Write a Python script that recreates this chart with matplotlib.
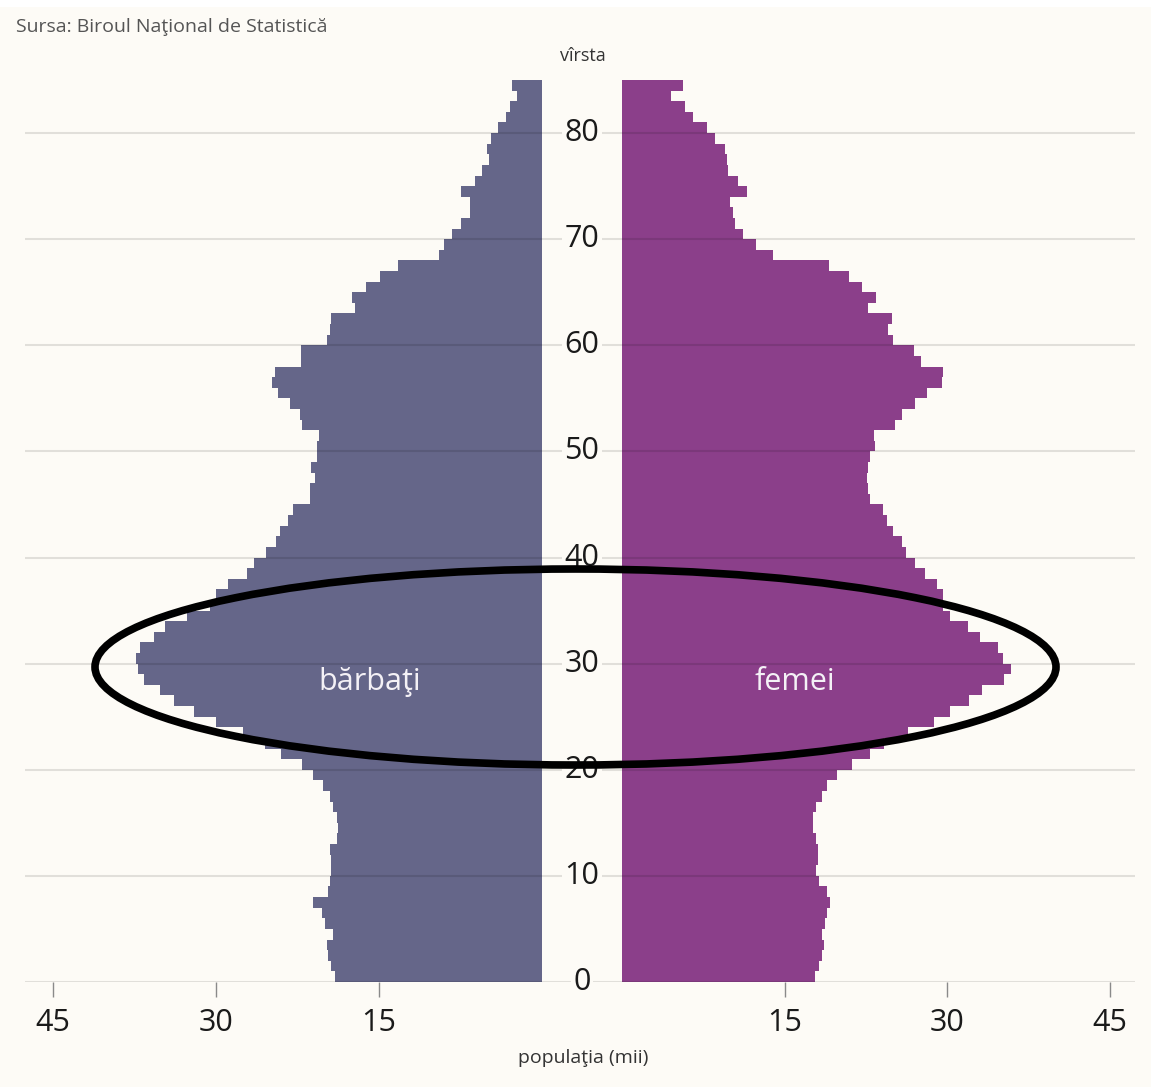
import numpy as np
import matplotlib.pyplot as plt
from matplotlib.patches import Ellipse, Rectangle

plt.rcParams["font.family"] = ["Open Sans", "DejaVu Sans"]

# populatia pe virste (mii), varsta 0..84
varsta = np.arange(0, 85)
barbati = [19.1, 19.4, 19.7, 19.8, 19.2, 20.0, 20.3, 21.1, 19.7, 19.5,
           19.4, 19.4, 19.5, 18.9, 18.8, 18.9, 19.2, 19.5, 20.2, 21.1,
           22.1, 24.0, 25.5, 27.5, 30.0, 32.0, 33.9, 35.2, 36.6, 37.2,
           37.4, 37.0, 35.7, 34.7, 32.7, 30.6, 30.0, 28.9, 27.2, 26.5,
           25.4, 24.5, 24.1, 23.4, 22.9, 21.4, 21.4, 20.9, 21.3, 20.7,
           20.7, 20.5, 22.1, 22.3, 23.2, 24.3, 24.9, 24.6, 22.2, 22.2,
           19.8, 19.5, 19.4, 17.2, 17.5, 16.2, 14.9, 13.3, 9.46, 9.03,
           8.26, 7.49, 6.64, 6.64, 7.49, 6.14, 5.50, 4.85, 5.10, 4.73,
           4.03, 3.32, 2.95, 2.33, 2.79]
femei = [17.8, 18.2, 18.4, 18.6, 18.4, 18.7, 18.9, 19.2, 18.9, 18.2,
         17.9, 18.1, 18.1, 17.9, 17.6, 17.6, 17.9, 18.4, 18.9, 19.8,
         21.2, 22.9, 24.2, 26.4, 28.8, 30.2, 32.0, 33.2, 35.2, 35.9,
         35.1, 34.7, 33.0, 31.9, 30.2, 29.6, 29.6, 29.0, 27.9, 27.0,
         26.2, 25.8, 25.0, 24.4, 24.1, 22.9, 22.7, 22.6, 22.7, 22.9,
         23.3, 23.2, 25.2, 25.8, 27.0, 28.1, 29.5, 29.6, 27.6, 26.9,
         25.0, 24.5, 24.9, 22.7, 23.4, 22.1, 20.9, 19.1, 13.9, 12.4,
         11.2, 10.4, 10.2, 10.0, 11.5, 10.7, 9.8, 9.65, 9.49, 8.57,
         7.86, 6.57, 5.81, 4.49, 5.65]
grila_varsta = [0, 10, 20, 30, 40, 50, 60, 70, 80]
ticks_pop = [15, 30, 45]

bg = "#FDFBF6"
c_barbati = "#656689"
c_femei = "#8B3F8A"

W, H = 1151, 1087
fig = plt.figure(figsize=(W / 100, H / 100), dpi=100, facecolor=bg)
fig.patches.append(Rectangle((0, 1 - 7 / H), 1, 7 / H, transform=fig.transFigure,
                             facecolor="white", edgecolor="none", zorder=0))

bottom = (H - 982) / H
height = (982 - 80) / H
ax_l = fig.add_axes([25 / W, bottom, 517 / W, height])
ax_r = fig.add_axes([622 / W, bottom, 513 / W, height])

ax_l.barh(varsta, barbati, height=1, align="edge", color=c_barbati, lw=0)
ax_r.barh(varsta, femei, height=1, align="edge", color=c_femei, lw=0)
ax_l.set_xlim(47.6, 0)
ax_r.set_xlim(0, 47.3)

for ax in (ax_l, ax_r):
    ax.set_ylim(0, 85)
    ax.set_facecolor("none")
    for s in ax.spines.values():
        s.set_visible(False)
    ax.set_yticks([])
    ax.set_xticks(ticks_pop)
    ax.set_xticklabels([str(t) for t in ticks_pop])
    ax.tick_params(axis="x", direction="out", length=11, width=1, color="#8a8a8a",
                   pad=8, labelsize=22, labelcolor="#1a1a1a")

# grila + etichete de virsta (peste bare)
ax_g = fig.add_axes([25 / W, bottom, 1110 / W, height], zorder=3)
ax_g.set_xlim(0, 1)
ax_g.set_ylim(0, 85)
ax_g.axis("off")
ax_g.hlines(grila_varsta, 0, 1, color="black", alpha=0.11, lw=1.5)
for a in grila_varsta:
    ax_g.text((582 - 25) / 1110, a, str(a), ha="center", va="center", fontsize=22,
              color="#1a1a1a",
              bbox=dict(boxstyle="square,pad=0.08", facecolor=bg, edgecolor="none"))

ax_g.text((370 - 25) / 1110, 28.3, "bărbaţi", ha="center", va="center",
          fontsize=22, color="#F4F1F6")
ax_g.text((795 - 25) / 1110, 28.3, "femei", ha="center", va="center",
          fontsize=22, color="#F4F1F6")

fig.text(583 / W, 1 - 56 / H, "vîrsta", ha="center", va="center", fontsize=13, color="#333333")
fig.text(583 / W, 1 - 1058 / H, "populaţia (mii)", ha="center", va="center",
         fontsize=14, color="#333333")
fig.text(16 / W, 1 - 27 / H, "Sursa: Biroul Naţional de Statistică", ha="left", va="center",
         fontsize=14, color="#555555")

fig.patches.append(Ellipse((575.5 / W, 1 - 667 / H), 961 / W, 196 / H,
                           transform=fig.transFigure, facecolor="none",
                           edgecolor="black", lw=5.5, zorder=10))

fig.savefig("out.png", dpi=100, facecolor=bg)
